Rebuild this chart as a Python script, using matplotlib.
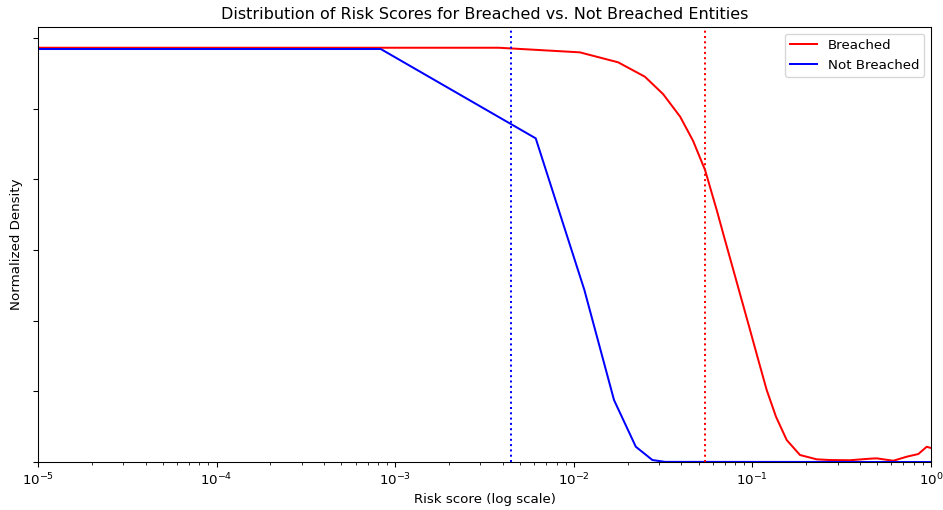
import matplotlib

matplotlib.use("Agg")
import matplotlib.pyplot as plt

# values (y in arbitrary density units)
breached_x = [1e-5, 0.0038, 0.0108, 0.0177, 0.0250, 0.0316, 0.0394, 0.0465, 0.0543,
              0.0631, 0.0702, 0.0782, 0.0871, 0.0970, 0.1079, 0.1202, 0.1355, 0.1556,
              0.1847, 0.2290, 0.272, 0.3516, 0.455, 0.496, 0.615, 0.731, 0.849, 0.946, 1.0]
breached_y = [5.862, 5.862, 5.797, 5.656, 5.452, 5.207, 4.886, 4.546, 4.132,
              3.566, 3.141, 2.717, 2.292, 1.868, 1.443, 1.019, 0.641, 0.311,
              0.099, 0.038, 0.028, 0.025, 0.047, 0.052, 0.018, 0.075, 0.113, 0.216, 0.198]

not_breached_x = [1e-5, 0.00083, 0.00612, 0.01146, 0.01679, 0.02224, 0.02754, 0.03245, 1.0]
not_breached_y = [5.844, 5.844, 4.580, 2.434, 0.877, 0.216, 0.028, 0.002, 0.0]

breached_marker = 0.0545
not_breached_marker = 0.00445

fig, ax = plt.subplots(figsize=(943 / 96, 510 / 96), dpi=96)
fig.subplots_adjust(left=0.0403, right=0.9873, top=0.947, bottom=0.0941)

ax.plot(breached_x, breached_y, color="red", lw=1.5, label="Breached")
ax.plot(not_breached_x, not_breached_y, color="blue", lw=1.5, label="Not Breached")
ax.axvline(breached_marker, color="red", ls=":", lw=1.5)
ax.axvline(not_breached_marker, color="blue", ls=":", lw=1.5)

ax.set_xscale("log")
ax.set_xlim(1e-5, 1)
ax.set_ylim(bottom=0)
ax.set_yticklabels([])
ax.set_xlabel("Risk score (log scale)")
ax.set_ylabel("Normalized Density")
ax.set_title("Distribution of Risk Scores for Breached vs. Not Breached Entities")
ax.legend(loc="upper right")

fig.savefig("out.png", dpi=96)
plt.close(fig)
